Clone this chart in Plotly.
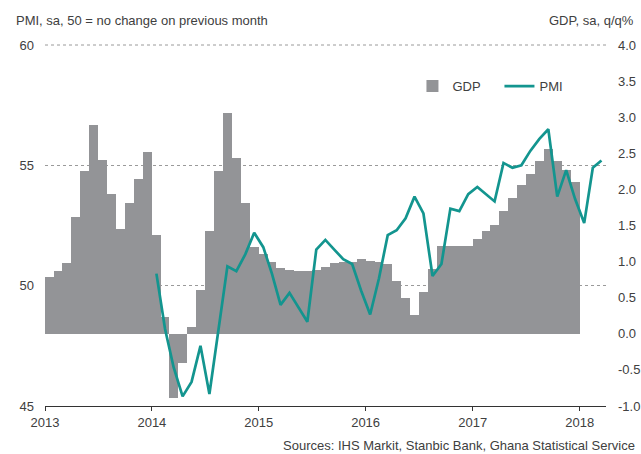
import pandas as pd
import plotly.graph_objects as go

# ---------------- data ----------------
gdp_start = "2013-01-01"
gdp_values = [
    0.78, 0.87, 0.98, 1.62, 2.26, 2.89, 2.41, 1.93, 1.45, 1.81, 2.15, 2.52,   # 2013
    1.37, 0.23, -0.89, -0.40, 0.10, 0.61, 1.42, 2.25, 3.06, 2.44, 1.81, 1.20,  # 2014
    1.10, 1.00, 0.91, 0.89, 0.87, 0.87, 0.89, 0.93, 0.98, 1.00, 1.00, 1.04,   # 2015
    1.01, 0.99, 0.96, 0.73, 0.49, 0.26, 0.58, 0.90, 1.22, 1.22, 1.22, 1.22,   # 2016
    1.31, 1.42, 1.51, 1.70, 1.88, 2.06, 2.22, 2.39, 2.56, 2.40, 2.27, 2.10,   # 2017
]
pmi_start = "2014-01-01"
pmi_values = [
    50.5, 48.2, 46.6, 45.4, 46.0, 47.5, 45.5, 48.1, 50.8, 50.6, 51.3, 52.2,   # 2014
    51.6, 50.5, 49.2, 49.7, 49.1, 48.5, 51.5, 51.9, 51.5, 51.1, 50.9, 49.8,   # 2015
    48.8, 50.3, 52.1, 52.3, 52.8, 53.7, 53.0, 50.4, 50.9, 53.2, 53.1, 53.8,   # 2016
    54.1, 53.8, 53.5, 55.1, 54.9, 55.0, 55.6, 56.1, 56.5, 53.7, 54.8, 53.6,   # 2017
    52.6, 54.9, 55.2,                                                         # 2018
]
year_ticks = ["2013", "2014", "2015", "2016", "2017", "2018"]
pmi_ticks = [45, 50, 55, 60]
gdp_ticks = [-1.0, -0.5, 0.0, 0.5, 1.0, 1.5, 2.0, 2.5, 3.0, 3.5, 4.0]

title_left = "PMI, sa, 50 = no change on previous month"
title_right = "GDP, sa, q/q%"
source_text = "Sources: IHS Markit, Stanbic Bank, Ghana Statistical Service"

# ---------------- helpers ----------------
def month_mid(start, n):
    starts = pd.date_range(start, periods=n, freq="MS")
    ends = starts + pd.offsets.MonthBegin(1)
    mids = starts + (ends - starts) / 2
    widths = [(e - s).total_seconds() * 1000 for s, e in zip(starts, ends)]
    return mids, widths

gdp_x, gdp_w = month_mid(gdp_start, len(gdp_values))
pmi_x, _ = month_mid(pmi_start, len(pmi_values))

GRAY = "#939497"
TEAL = "#13958f"
TXT = "#404040"
GRID = "#9a9a9a"
FONT = "Liberation Sans, Arial, sans-serif"

fig = go.Figure()
fig.add_trace(go.Bar(
    x=gdp_x, y=gdp_values, width=gdp_w, name="GDP",
    marker=dict(color=GRAY, line=dict(width=0)),
    yaxis="y",
))
fig.add_trace(go.Scatter(
    x=pmi_x, y=pmi_values, name="PMI", mode="lines",
    line=dict(color=TEAL, width=2.7),
    yaxis="y2",
))

fig.update_layout(
    width=641, height=454,
    margin=dict(l=45, r=35, t=45, b=48, autoexpand=False),
    paper_bgcolor="white", plot_bgcolor="white",
    font=dict(family=FONT, size=13, color=TXT),
    bargap=0,
    showlegend=True,
    legend=dict(orientation="h", x=0.655, y=0.886, xanchor="left", yanchor="middle",
                bgcolor="rgba(0,0,0,0)", font=dict(size=13, color=TXT),
                itemwidth=30, entrywidth=42),
    xaxis=dict(
        type="date", range=["2013-01-01", "2018-04-01"],
        tickvals=[f"{y}-01-01" for y in year_ticks], ticktext=year_ticks,
        ticks="outside", ticklen=4, tickcolor="#333", tickwidth=1,
        showline=True, linecolor="#333", linewidth=1,
        showgrid=False, zeroline=False, automargin=False,
        tickfont=dict(size=13, color=TXT),
    ),
    yaxis=dict(
        side="right", range=[-1.0, 4.0], tickvals=gdp_ticks,
        ticktext=[f"{v:.1f}" for v in gdp_ticks],
        showgrid=False, zeroline=False, showline=False, automargin=False,
        ticks="", ticklabelstandoff=11,
        tickfont=dict(size=13, color=TXT),
    ),
    yaxis2=dict(
        overlaying="y", side="left", range=[45, 60], tickvals=pmi_ticks,
        showgrid=True, gridcolor=GRID, griddash="dot", gridwidth=1,
        zeroline=False, showline=False, ticks="", ticklabelstandoff=10,
        automargin=False,
        tickfont=dict(size=13, color=TXT),
    ),
    shapes=[
        dict(type="line", xref="paper", yref="paper", x0=0, x1=1, y0=1, y1=1,
             line=dict(color=GRID, width=1, dash="dot"), layer="below"),
    ],
    annotations=[
        dict(text=title_left, xref="paper", yref="paper", x=0, y=1,
             xshift=-31, yshift=25, xanchor="left", yanchor="middle",
             showarrow=False, font=dict(size=13, color=TXT)),
        dict(text=title_right, xref="paper", yref="paper", x=1, y=1,
             xshift=30, yshift=25, xanchor="right", yanchor="middle",
             showarrow=False, font=dict(size=13, color=TXT)),
        dict(text=source_text, xref="paper", yref="paper", x=1, y=0,
             xshift=31, yshift=-39, xanchor="right", yanchor="middle",
             showarrow=False, font=dict(size=13, color=TXT)),
    ],
)

fig.write_html("out.html")
